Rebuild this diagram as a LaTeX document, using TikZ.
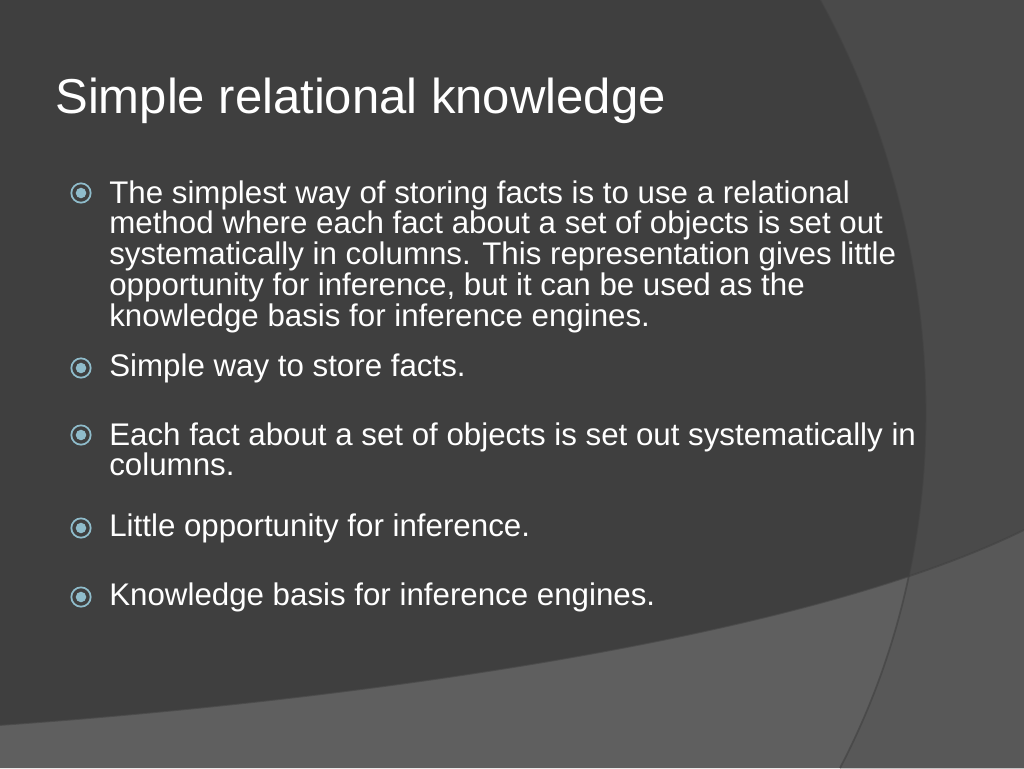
\documentclass[tikz,border=0pt]{standalone}
\usepackage{fontspec}
\setmainfont{Liberation Sans}
\usetikzlibrary{positioning}
\definecolor{slidebg}{HTML}{3F3F3F}
\definecolor{sidebg}{HTML}{4A4A4A}
\definecolor{lowbg}{HTML}{5F5F5F}
\definecolor{cornerbg}{HTML}{585858}
\definecolor{bulletc}{HTML}{8FBCCB}
\tikzset{
  itemtext/.style={anchor=west, text=white, align=left, inner sep=0pt,
    font=\fontsize{17.8pt}{11.9pt}\selectfont},
  bulletmark/.style={circle, draw=bulletc, line width=1pt, minimum size=11pt,
    inner sep=0pt, path picture={\fill[bulletc] (path picture bounding box.center) circle (3pt);}}
}
\begin{document}
\begin{tikzpicture}[x=0.02cm, y=-0.02cm]
\useasboundingbox (0,0) rectangle (1024,768);
% background
\fill[slidebg] (0,0) rectangle (1024,768);
\fill[sidebg] (820,0) .. controls (930,200) and (980,500) .. (840,768) -- (1024,768) -- (1024,0) -- cycle;
\fill[lowbg] (0,725) .. controls (350,700) and (800,640) .. (1024,530) -- (1024,768) -- (0,768) -- cycle;
\begin{scope}
\clip (0,725) .. controls (350,700) and (800,640) .. (1024,530) -- (1024,768) -- (0,768) -- cycle;
\fill[cornerbg] (820,0) .. controls (930,200) and (980,500) .. (840,768) -- (1024,768) -- (1024,0) -- cycle;
\end{scope}
\draw[black!75, line width=1pt, opacity=0.6] (820,0) .. controls (930,200) and (980,500) .. (840,768);
\draw[black!75, line width=1pt, opacity=0.6] (0,725) .. controls (350,700) and (800,640) .. (1024,530);
% title
\node[anchor=west, text=white, inner sep=0pt, font=\fontsize{27.9pt}{32pt}\selectfont] (title) at (55,101) {Simple relational knowledge};
% items
\node[bulletmark] (b1) at (81,193) {};
\node[itemtext, anchor=north west] (t1) at (109,180) {The simplest way of storing facts is to use a relational\\method where each fact about a set of objects is set out\\systematically in columns. This representation gives little\\opportunity for inference, but it can be used as the\\knowledge basis for inference engines.};
\node[bulletmark] (b2) at (81,368) {};
\node[itemtext] (t2) at (109,368) {Simple way to store facts.};
\node[bulletmark] (b3) at (81,435) {};
\node[itemtext, anchor=north west] (t3) at (109,422) {Each fact about a set of objects is set out systematically in\\columns.};
\node[bulletmark] (b4) at (81,528) {};
\node[itemtext] (t4) at (109,528) {Little opportunity for inference.};
\node[bulletmark] (b5) at (81,597) {};
\node[itemtext] (t5) at (109,597) {Knowledge basis for inference engines.};
\end{tikzpicture}
\end{document}
